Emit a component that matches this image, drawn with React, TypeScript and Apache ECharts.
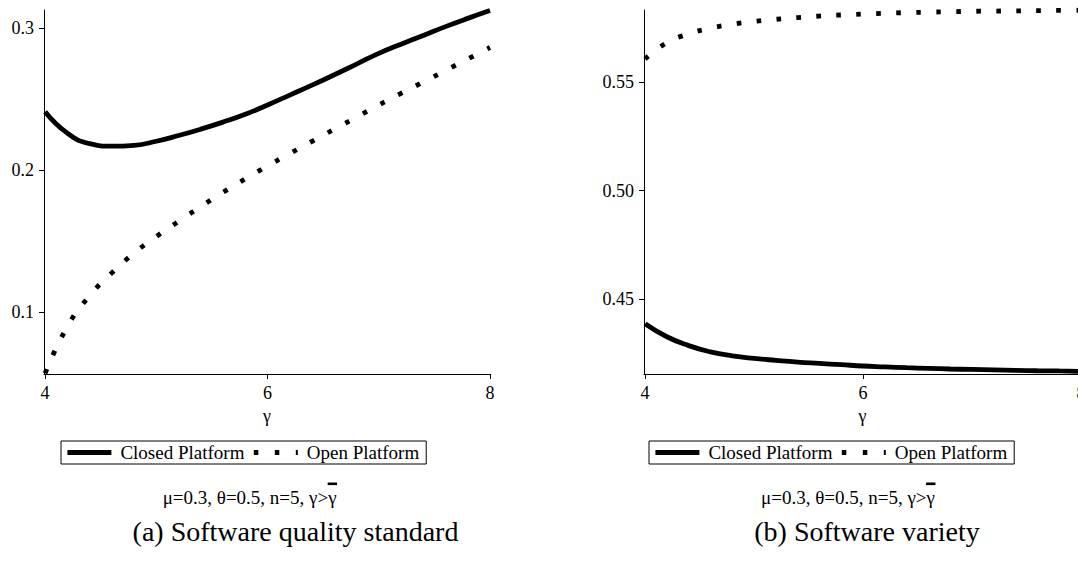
import React, { useEffect, useRef } from "react";
import * as echarts from "echarts";

// γ grid at which both curves are sampled
const gamma = [4.0, 4.2, 4.4, 4.6, 4.8, 5.0, 5.2, 5.4, 5.6, 5.8, 6.0, 6.2, 6.4, 6.6, 6.8, 7.0, 7.2, 7.4, 7.6, 7.8, 8.0];

// (a) software quality standard
const closedQuality = [0.2413, 0.2262, 0.2188, 0.217, 0.2176, 0.2205, 0.2245, 0.229, 0.234, 0.2395, 0.246, 0.253, 0.26, 0.2673, 0.2748, 0.2824, 0.2888, 0.295, 0.3012, 0.307, 0.3125];
const openQuality = [0.057, 0.09, 0.1117, 0.1278, 0.1417, 0.1534, 0.164, 0.1745, 0.1845, 0.194, 0.2031, 0.2118, 0.2204, 0.229, 0.2375, 0.246, 0.2542, 0.2622, 0.2703, 0.2784, 0.2865];

// (b) software variety
const closedVariety = [0.4385, 0.4325, 0.4284, 0.4255, 0.4237, 0.4225, 0.4216, 0.4208, 0.4202, 0.4196, 0.419, 0.4186, 0.4182, 0.4179, 0.4176, 0.4174, 0.4172, 0.417, 0.4168, 0.4167, 0.4165];
const openVariety = [0.5608, 0.5683, 0.5724, 0.575, 0.5768, 0.5781, 0.5791, 0.5799, 0.5806, 0.5811, 0.5815, 0.5819, 0.5822, 0.5824, 0.5826, 0.5828, 0.5829, 0.583, 0.5831, 0.5832, 0.5833];

const gammaTicks = [4, 6, 8];
const qualityTicks = [0.1, 0.2, 0.3];
const varietyTicks = [0.45, 0.5, 0.55];

const CLOSED = "Closed Platform";
const OPEN = "Open Platform";
const paramPrefix = "μ=0.3, θ=0.5, n=5, γ>";
const paramBar = "γ";
const captionA = "(a) Software quality standard";
const captionB = "(b) Software variety";

const SERIF = "Liberation Serif";
const FS_AXIS = 18;
const FS_TEXT = 19;
const FS_CAPTION = 28;

const pairs = (ys: number[]) => gamma.map((g, i) => [g, ys[i]]);

const measure = (text: string, font: string) => {
  const ctx = document.createElement("canvas").getContext("2d")!;
  ctx.font = font;
  return ctx.measureText(text).width;
};

const closedStyle = { color: "#000", width: 4.8, cap: "butt" as const };
const openStyle = { color: "#000", width: 4.8, type: [4.6, 15.4], cap: "butt" as const };

function axisX(gridIndex: number) {
  return {
    type: "value" as const,
    gridIndex,
    min: 3.99,
    max: 8,
    name: "γ",
    nameLocation: "middle" as const,
    nameGap: 23,
    nameTextStyle: { fontFamily: SERIF, fontSize: FS_AXIS, color: "#000" },
    axisLine: { onZero: false, lineStyle: { color: "#000", width: 1 } },
    axisTick: { customValues: gammaTicks, length: 5, lineStyle: { color: "#000" } },
    axisLabel: {
      customValues: gammaTicks,
      margin: 10,
      fontFamily: SERIF,
      fontSize: FS_AXIS,
      color: "#000",
    },
    splitLine: { show: false },
  };
}

function axisY(gridIndex: number, min: number, max: number, ticks: number[], digits: number) {
  return {
    type: "value" as const,
    gridIndex,
    min,
    max,
    axisLine: { show: true, onZero: false, lineStyle: { color: "#000", width: 1 } },
    axisTick: { show: true, customValues: ticks, length: 5, lineStyle: { color: "#000" } },
    axisLabel: {
      customValues: ticks,
      margin: 10,
      fontFamily: SERIF,
      fontSize: FS_AXIS,
      color: "#000",
      formatter: (v: number) => v.toFixed(digits),
    },
    splitLine: { show: false },
  };
}

// hide the marker that line-series legend icons put in the middle of the stroke
const noMarker = { color: "rgba(0,0,0,0)", borderWidth: 0 };

function legendAt(left: number) {
  return {
    left,
    top: 441,
    orient: "horizontal" as const,
    borderColor: "#000",
    borderWidth: 1,
    padding: [2, 7, 2, 4],
    itemWidth: 44,
    itemHeight: 14,
    itemGap: 7,
    selectedMode: false,
    textStyle: { fontFamily: SERIF, fontSize: FS_TEXT, color: "#000", padding: [0, 0, 0, 4] },
    data: [
      { name: CLOSED, itemStyle: noMarker, lineStyle: { width: 4.8, cap: "butt" } },
      { name: OPEN, itemStyle: noMarker, lineStyle: { width: 4.8, type: [4.5, 16.5], cap: "butt" } },
    ],
  };
}

function paramLabel(cx: number, midY: number) {
  const font = `${FS_TEXT}px ${SERIF}`;
  const prefixW = measure(paramPrefix, font);
  const barW = measure(paramBar, font);
  const start = cx - (prefixW + barW) / 2;
  return [
    {
      type: "text",
      x: start,
      y: midY,
      style: {
        text: paramPrefix + paramBar,
        font,
        fill: "#000",
        textAlign: "left",
        textVerticalAlign: "middle",
      },
    },
    {
      type: "rect",
      shape: { x: start + prefixW - 0.5, y: midY - 15, width: barW + 1, height: 2.6 },
      style: { fill: "#000" },
    },
  ];
}

function caption(text: string, cx: number, midY: number) {
  return {
    type: "text",
    x: cx,
    y: midY,
    style: {
      text,
      font: `${FS_CAPTION}px ${SERIF}`,
      fill: "#000",
      textAlign: "center",
      textVerticalAlign: "middle",
    },
  };
}

export default function App() {
  const ref = useRef<HTMLDivElement>(null);

  useEffect(() => {
    document.body.style.margin = "0";
    const chart = echarts.init(ref.current!, undefined, { renderer: "svg" });
    chart.setOption({
      animation: false,
      backgroundColor: "#fff",
      textStyle: { fontFamily: SERIF },
      grid: [
        { left: 44, top: 10, width: 446, height: 364, outerBoundsMode: "none" },
        { left: 644, top: 10, width: 437, height: 364, outerBoundsMode: "none" },
      ],
      xAxis: [axisX(0), axisX(1)],
      yAxis: [
        axisY(0, 0.0566, 0.3129, qualityTicks, 1),
        axisY(1, 0.4153, 0.5834, varietyTicks, 2),
      ],
      legend: [legendAt(61), legendAt(649)],
      series: [
        { name: CLOSED, type: "line", xAxisIndex: 0, yAxisIndex: 0, data: pairs(closedQuality), smooth: 0.5, symbol: "none", color: "#000", lineStyle: closedStyle },
        { name: OPEN, type: "line", xAxisIndex: 0, yAxisIndex: 0, data: pairs(openQuality), smooth: 0.5, symbol: "none", color: "#000", lineStyle: openStyle },
        { name: CLOSED, type: "line", xAxisIndex: 1, yAxisIndex: 1, data: pairs(closedVariety), smooth: 0.5, symbol: "none", color: "#000", lineStyle: closedStyle },
        { name: OPEN, type: "line", xAxisIndex: 1, yAxisIndex: 1, data: pairs(openVariety), smooth: 0.5, symbol: "none", color: "#000", lineStyle: openStyle },
      ],
      graphic: [
        ...paramLabel(249.6, 497.5),
        ...paramLabel(848, 497.5),
        caption(captionA, 295.5, 531),
        caption(captionB, 867, 531),
      ],
    });
    return () => chart.dispose();
  }, []);

  return (
    <div
      ref={ref}
      style={{ position: "absolute", left: 0, top: 0, width: 1078, height: 569, overflow: "hidden" }}
    />
  );
}
